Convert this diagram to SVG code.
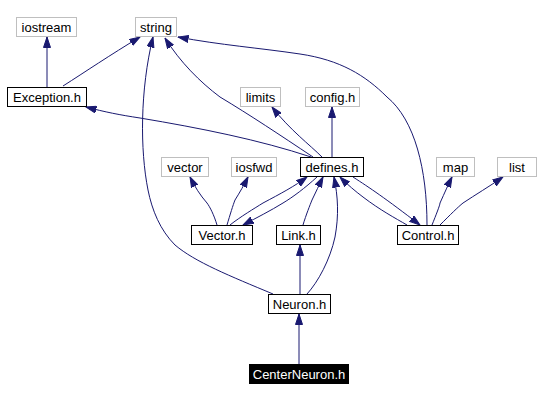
<svg xmlns="http://www.w3.org/2000/svg" width="540" height="401" viewBox="0 0 540 401">
<style>
.g rect{fill:#fff;stroke:#bfbfbf;stroke-width:1}
.b rect{fill:#fff;stroke:#000;stroke-width:1}
.k rect{fill:#000;stroke:#000;stroke-width:1}
text{font-family:"Liberation Sans",Arial,sans-serif;font-size:13px;text-anchor:middle;fill:#000}
.k text{fill:#fff}
.e path{fill:none;stroke:#191970;stroke-width:1;marker-end:url(#a)}
</style>
<defs>
<marker id="a" markerUnits="userSpaceOnUse" markerWidth="11" markerHeight="8" viewBox="0 0 11 8" refX="10.5" refY="4" orient="auto">
<path d="M0,0.5 L10.5,4 L0,7.5 z" fill="#191970" stroke="#191970" stroke-width="1"/>
</marker>
</defs>
<rect width="540" height="401" fill="#fff"/>
<g class="e" id="edges">
<path d="M47,87 L47,37"/>
<path d="M63,86 C85,72 110,55 140,37"/>
<path d="M311,157 C260,140 200,128 140,118 C120,115 105,112 86,107"/>
<path d="M313,157 C280,135 250,115 220,97 C200,82 180,62 165,38"/>
<path d="M322,157 C310,145 290,130 272,107"/>
<path d="M332,157 L332,107"/>
<path d="M427,225 C427,170 415,120 387,97 C365,75 340,60 300,54 C260,48 220,45 178,37"/>
<path d="M407,225 C395,218 380,210 363,197 C355,191 348,185 340,177"/>
<path d="M353,177 C370,188 385,198 420,225"/>
<path d="M432,225 C436,215 440,205 440,203 C445,192 448,185 452,177"/>
<path d="M440,225 C450,215 458,207 463,203 C475,195 490,186 503,177"/>
<path d="M217,225 C214,215 210,207 207,203 C200,195 195,187 190,177"/>
<path d="M227,225 C230,215 233,205 235,200 C240,192 244,185 248,177"/>
<path d="M230,225 C240,217 255,208 263,203 C280,194 295,186 307,177"/>
<path d="M317,177 C305,188 293,197 283,203 C270,211 258,217 243,225"/>
<path d="M303,225 C306,215 310,205 312,200 C316,192 319,185 323,177"/>
<path d="M300,294 L300,245"/>
<path d="M307,294 C318,282 330,260 335,237 C339,215 338,197 334,177"/>
<path d="M273,294 C230,276 195,262 175,245 C160,230 152,210 148,190 C140,150 140,90 153,37"/>
<path d="M299,364 L299,314"/>
</g>
<g id="iostream" class="g"><rect x="16.5" y="17.5" width="60" height="19"/><text x="46.5" y="31.5">iostream</text></g>
<g id="string" class="g"><rect x="135.5" y="17.5" width="41" height="19"/><text x="156" y="31.5">string</text></g>
<g id="Exception" class="b"><rect x="7.5" y="87.5" width="79" height="19"/><text x="47" y="101.5">Exception.h</text></g>
<g id="limits" class="g"><rect x="240.5" y="87.5" width="40" height="19"/><text x="260.5" y="101.5">limits</text></g>
<g id="config" class="g"><rect x="305.5" y="87.5" width="54" height="19"/><text x="332.5" y="101.5">config.h</text></g>
<g id="vector" class="g"><rect x="161.5" y="157.5" width="47" height="19"/><text x="185" y="171.5">vector</text></g>
<g id="iosfwd" class="g"><rect x="231.5" y="157.5" width="45" height="19"/><text x="254" y="171.5">iosfwd</text></g>
<g id="defines" class="b"><rect x="300.5" y="157.5" width="63" height="19"/><text x="332" y="171.5">defines.h</text></g>
<g id="map" class="g"><rect x="436.5" y="157.5" width="38" height="19"/><text x="455.5" y="171.5">map</text></g>
<g id="list" class="g"><rect x="497.5" y="157.5" width="39" height="19"/><text x="517" y="171.5">list</text></g>
<g id="Vector" class="b"><rect x="191.5" y="225.5" width="61" height="19"/><text x="222" y="239.5">Vector.h</text></g>
<g id="Link" class="b"><rect x="276.5" y="225.5" width="44" height="19"/><text x="298.5" y="239.5">Link.h</text></g>
<g id="Control" class="b"><rect x="397.5" y="225.5" width="61" height="19"/><text x="428" y="239.5">Control.h</text></g>
<g id="Neuron" class="b"><rect x="268.5" y="294.5" width="62" height="19"/><text x="299.5" y="308.5">Neuron.h</text></g>
<g id="CenterNeuron" class="k"><rect x="249.5" y="364.5" width="99" height="19"/><text x="299" y="378.5">CenterNeuron.h</text></g>
</svg>
